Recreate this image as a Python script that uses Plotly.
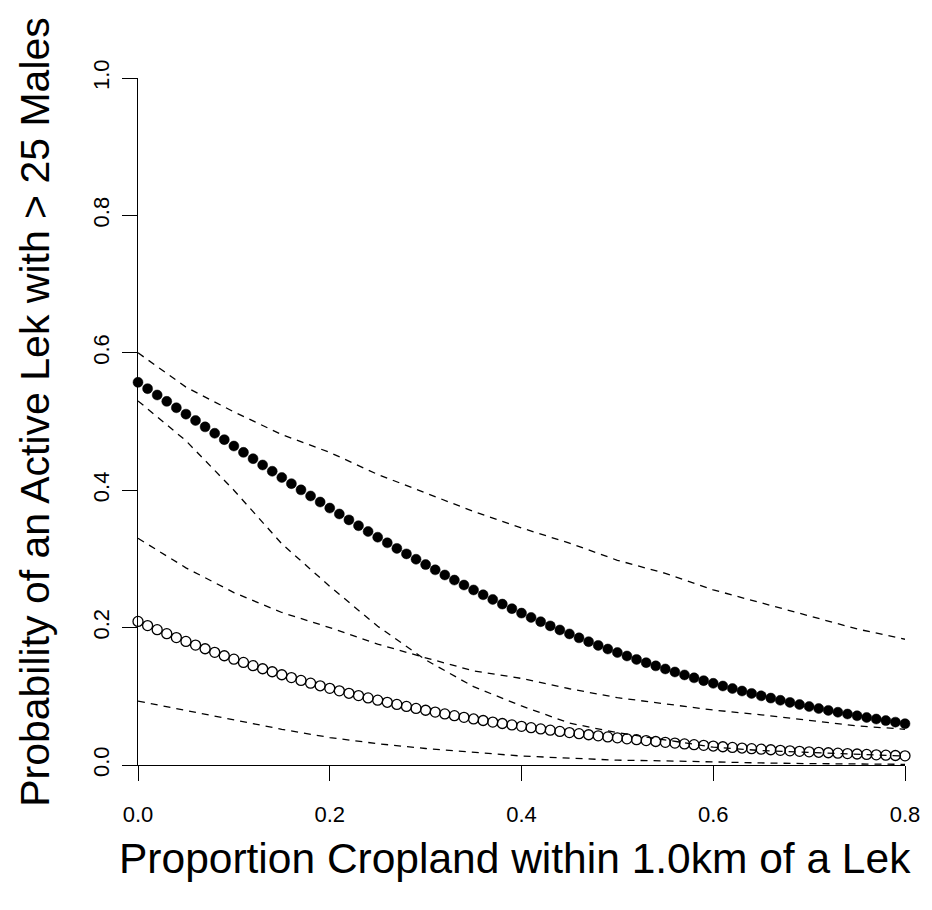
import plotly.graph_objects as go

# ---- data ----
x_pts = [round(i * 0.01, 2) for i in range(81)]

p_filled = [0.5570, 0.5478, 0.5386, 0.5293, 0.5200, 0.5107, 0.5015, 0.4922, 0.4829, 0.4736,
            0.4643, 0.4551, 0.4459, 0.4367, 0.4276, 0.4185, 0.4095, 0.4005, 0.3916, 0.3828,
            0.3740, 0.3654, 0.3568, 0.3483, 0.3399, 0.3316, 0.3234, 0.3153, 0.3073, 0.2995,
            0.2917, 0.2841, 0.2766, 0.2692, 0.2620, 0.2548, 0.2478, 0.2410, 0.2342, 0.2276,
            0.2211, 0.2148, 0.2086, 0.2025, 0.1966, 0.1908, 0.1851, 0.1795, 0.1741, 0.1688,
            0.1637, 0.1587, 0.1537, 0.1490, 0.1443, 0.1398, 0.1354, 0.1311, 0.1269, 0.1228,
            0.1189, 0.1150, 0.1113, 0.1077, 0.1042, 0.1007, 0.0974, 0.0942, 0.0911, 0.0880,
            0.0851, 0.0822, 0.0795, 0.0768, 0.0742, 0.0717, 0.0692, 0.0669, 0.0646, 0.0624,
            0.0602]

p_open = [0.2090, 0.2029, 0.1970, 0.1912, 0.1855, 0.1799, 0.1745, 0.1692, 0.1640, 0.1590,
          0.1541, 0.1493, 0.1446, 0.1401, 0.1357, 0.1314, 0.1272, 0.1231, 0.1191, 0.1153,
          0.1116, 0.1079, 0.1044, 0.1010, 0.0976, 0.0944, 0.0913, 0.0882, 0.0853, 0.0824,
          0.0797, 0.0770, 0.0744, 0.0718, 0.0694, 0.0670, 0.0648, 0.0625, 0.0604, 0.0583,
          0.0563, 0.0544, 0.0525, 0.0507, 0.0489, 0.0472, 0.0456, 0.0440, 0.0424, 0.0409,
          0.0395, 0.0381, 0.0368, 0.0355, 0.0342, 0.0330, 0.0319, 0.0307, 0.0296, 0.0286,
          0.0276, 0.0266, 0.0256, 0.0247, 0.0238, 0.0230, 0.0222, 0.0214, 0.0206, 0.0199,
          0.0192, 0.0185, 0.0178, 0.0172, 0.0166, 0.0160, 0.0154, 0.0148, 0.0143, 0.0138,
          0.0133]

x_ci = [0.00, 0.05, 0.10, 0.15, 0.20, 0.25, 0.30, 0.35, 0.40,
        0.45, 0.50, 0.55, 0.60, 0.65, 0.70, 0.75, 0.80]
filled_upper = [0.600, 0.550, 0.514, 0.481, 0.455, 0.423, 0.396, 0.369, 0.345,
                0.323, 0.298, 0.279, 0.255, 0.236, 0.217, 0.198, 0.183]
filled_lower = [0.530, 0.472, 0.400, 0.322, 0.260, 0.202, 0.153, 0.114, 0.086,
                0.061, 0.047, 0.036, 0.026, 0.021, 0.018, 0.015, 0.013]
open_upper = [0.330, 0.287, 0.251, 0.222, 0.200, 0.176, 0.156, 0.137, 0.126,
              0.111, 0.098, 0.089, 0.080, 0.073, 0.065, 0.057, 0.052]
open_lower = [0.093, 0.079, 0.066, 0.052, 0.040, 0.031, 0.024, 0.018, 0.013,
              0.010, 0.007, 0.006, 0.004, 0.003, 0.002, 0.002, 0.001]

x_ticks = [0.0, 0.2, 0.4, 0.6, 0.8]
y_ticks = [0.0, 0.2, 0.4, 0.6, 0.8, 1.0]
x_title = "Proportion Cropland within 1.0km of a Lek"
y_title = "Probability of an Active Lek with > 25 Males"

FONT = "Liberation Sans, Arial, Helvetica, sans-serif"

fig = go.Figure()

fig.add_trace(go.Scatter(
    x=x_pts, y=p_filled, mode="markers", cliponaxis=False,
    marker=dict(symbol="circle", size=10, color="black",
                line=dict(color="black", width=0.5)),
    showlegend=False))
fig.add_trace(go.Scatter(
    x=x_pts, y=p_open, mode="markers", cliponaxis=False,
    marker=dict(symbol="circle-open", size=10, color="black",
                line=dict(color="black", width=1.3)),
    showlegend=False))

for ys in (filled_upper, filled_lower, open_upper, open_lower):
    fig.add_trace(go.Scatter(
        x=x_ci, y=ys, mode="lines", cliponaxis=False,
        line=dict(color="black", width=1.3, dash="7px,6px"),
        showlegend=False))

axis_common = dict(
    showgrid=False, zeroline=False, showline=True, linecolor="black",
    linewidth=1.3, ticks="outside", ticklen=15, tickwidth=1.3,
    tickcolor="black", tickfont=dict(family=FONT, size=22, color="black"),
)

fig.update_xaxes(range=[0, 0.8], tickvals=x_ticks,
                 ticktext=[f"{v:.1f}" for v in x_ticks],
                 ticklabelstandoff=14, **axis_common)
fig.update_yaxes(range=[0, 1.0], tickvals=y_ticks,
                 ticktext=[f"{v:.1f}" for v in y_ticks],
                 tickangle=-90, ticklabelstandoff=4, **axis_common)

fig.add_annotation(text=x_title, xref="paper", yref="paper",
                   x=0.4915, y=-0.1354, xanchor="center", yanchor="middle",
                   showarrow=False,
                   font=dict(family=FONT, size=42.5, color="black"))
fig.add_annotation(text=y_title, xref="paper", yref="paper",
                   x=-0.1343, y=0.514, xanchor="center", yanchor="middle",
                   textangle=-90, showarrow=False,
                   font=dict(family=FONT, size=41, color="black"))

fig.update_layout(
    width=924, height=902,
    margin=dict(l=130, r=27, t=70, b=145),
    paper_bgcolor="white", plot_bgcolor="white",
)

fig.write_html("out.html")
